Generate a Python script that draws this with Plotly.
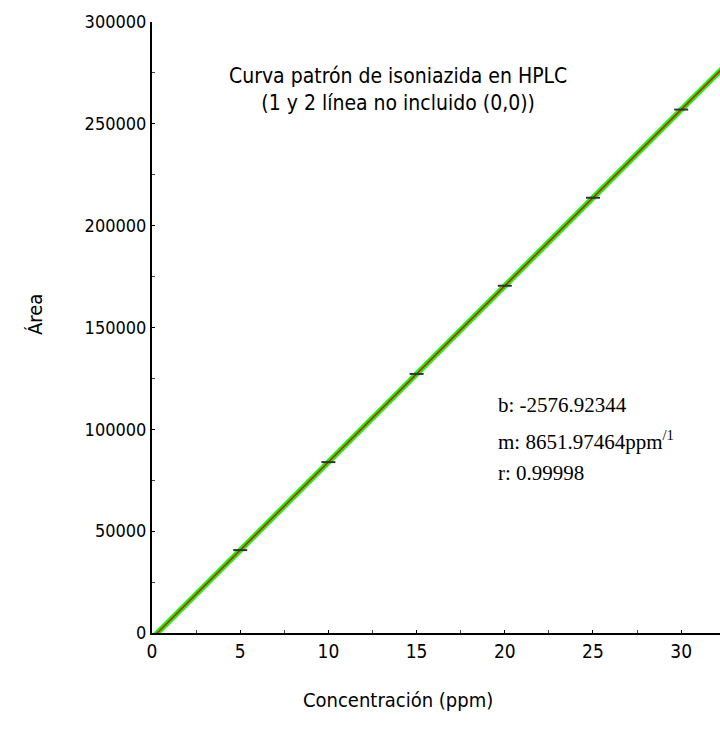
import plotly.graph_objects as go

# Calibration standards (ppm) and measured peak areas
conc_ppm = [5, 10, 15, 20, 25, 30]
area = [40700, 83900, 127200, 170500, 213700, 257000]

# Least-squares fit reported on the chart
intercept_b = -2576.92344
slope_m = 8651.97464
r_coef = 0.99998

x_ticks = [0, 5, 10, 15, 20, 25, 30]
y_ticks = [0, 50000, 100000, 150000, 200000, 250000, 300000]

X_MAX = 32.2
Y_MAX = 300000

fit_x = [0, 34]
fit_y = [intercept_b + slope_m * v for v in fit_x]

NARROW = "DejaVu Sans Condensed, Liberation Sans Narrow, Liberation Sans, sans-serif"
SERIF = "Liberation Serif, Times New Roman, serif"

fig = go.Figure()

# green band under the fitted line
fig.add_trace(go.Scatter(x=fit_x, y=fit_y, mode="lines",
                         line=dict(color="#00ff00", width=5.5),
                         hoverinfo="skip", showlegend=False))
# fitted line
fig.add_trace(go.Scatter(x=fit_x, y=fit_y, mode="lines",
                         line=dict(color="#ff0000", width=1.5),
                         hoverinfo="skip", showlegend=False))
# measured standards
fig.add_trace(go.Scatter(x=conc_ppm, y=area, mode="markers",
                         marker=dict(symbol="line-ew", size=10,
                                     line=dict(color="#333333", width=2)),
                         showlegend=False, cliponaxis=False))

fig.update_layout(
    width=720, height=745,
    margin=dict(l=152, r=0, t=22, b=112),
    paper_bgcolor="white", plot_bgcolor="white",
    font=dict(family=NARROW, size=18, color="black"),
    xaxis=dict(range=[0, X_MAX], tickvals=x_ticks, ticktext=[str(v) for v in x_ticks],
               showgrid=False, zeroline=False, showline=True, linecolor="black",
               linewidth=2, ticks="inside", ticklen=3, tickcolor="black",
               minor=dict(dtick=2.5, ticks="inside", ticklen=3, tickcolor="#444"),
               tickfont=dict(family=NARROW, size=19)),
    yaxis=dict(range=[0, Y_MAX], tickvals=y_ticks, ticktext=[str(v) for v in y_ticks],
               showgrid=False, zeroline=False, showline=True, linecolor="black",
               linewidth=2, ticks="inside", ticklen=3, tickcolor="black",
               minor=dict(dtick=25000, ticks="inside", ticklen=3, tickcolor="#444"),
               tickfont=dict(family=NARROW, size=18), ticklabelstandoff=0),
    annotations=[
        dict(text="Curva patrón de isoniazida en HPLC<br>(1 y 2 línea no incluido (0,0))",
             xref="paper", yref="paper", x=(398 - 152) / 568, y=(633 - 90) / 611,
             showarrow=False, font=dict(family=NARROW, size=21), align="center",
             xanchor="center", yanchor="middle"),
        dict(text="Área", xref="paper", yref="paper", x=(35 - 152) / 568,
             y=(633 - 315) / 611, textangle=-90, showarrow=False,
             font=dict(family=NARROW, size=20), xanchor="center", yanchor="middle"),
        dict(text="Concentración (ppm)", xref="paper", yref="paper",
             x=(398 - 152) / 568, y=(633 - 700) / 611, showarrow=False,
             font=dict(family=NARROW, size=20), xanchor="center", yanchor="middle"),
        dict(text=f"b: {intercept_b:.5f}", xref="paper", yref="paper",
             x=(496 - 152) / 568, y=(633 - 405) / 611, showarrow=False,
             font=dict(family=SERIF, size=21), xanchor="left", yanchor="middle"),
        dict(text=f"m: {slope_m:.5f}ppm<sup>/1</sup>", xref="paper", yref="paper",
             x=(496 - 152) / 568, y=(633 - 440) / 611, showarrow=False,
             font=dict(family=SERIF, size=21), xanchor="left", yanchor="middle"),
        dict(text=f"r: {r_coef:.5f}", xref="paper", yref="paper",
             x=(496 - 152) / 568, y=(633 - 473) / 611, showarrow=False,
             font=dict(family=SERIF, size=21), xanchor="left", yanchor="middle"),
    ],
)

fig.write_html("out.html")
